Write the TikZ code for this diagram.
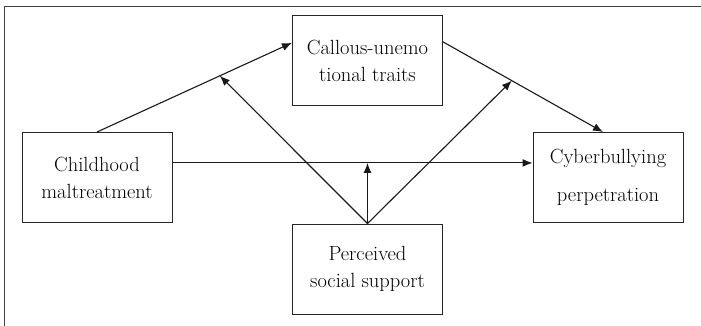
\documentclass[tikz,border=0pt]{standalone}
\usepackage{fontspec}
\newfontfamily\diagfont{DejaVu Serif}
\usetikzlibrary{arrows.meta,calc}
\begin{document}
\begin{tikzpicture}[x=1pt,y=-1pt,
  box/.style={draw=black!85,line width=1pt,minimum width=150pt,minimum height=90pt,inner sep=0pt,align=center,font=\fontsize{20.5}{27}\selectfont},
  conn/.style={draw=black!90,line width=1.1pt,-{Latex[length=10pt,width=8pt]}}]
\useasboundingbox (0,0) rectangle (701,326);
\draw[black!75,line width=1pt] (4,326) -- (4,7) -- (701,7);
\node[box] (cm) at (97,177.5) {Childhood\\maltreatment};
\node[box] (cu) at (367.5,61) {Callous-unemo\\tional traits};
\node[box] (cy) at (608,177.5) {Cyberbullying\\[11pt]perpetration};
\node[box] (ps) at (367.5,269) {Perceived\\social support};
\coordinate (a1) at (cm.north);
\coordinate (b1) at ($(cu.north west)!0.3!(cu.south west)$);
\coordinate (a2) at ($(cu.north east)!0.29!(cu.south east)$);
\coordinate (b2) at ($(cy.north)+(-5,0)$);
\coordinate (a3) at ($(cm.north east)!0.34!(cm.south east)$);
\coordinate (b3) at ($(cy.north west)!0.34!(cy.south west)$);
\coordinate (m1) at ($(a1)!0.63!(b1)$);
\coordinate (m2) at ($(a2)!0.43!(b2)$);
\coordinate (m3) at (ps.north |- a3);
\draw[conn] (a1) -- (b1);
\draw[conn] (a2) -- (b2);
\draw[conn] (a3) -- (b3);
\draw[conn] (ps.north) -- (m1);
\draw[conn] (ps.north) -- (m2);
\draw[conn] (ps.north) -- (m3);
\end{tikzpicture}
\end{document}
